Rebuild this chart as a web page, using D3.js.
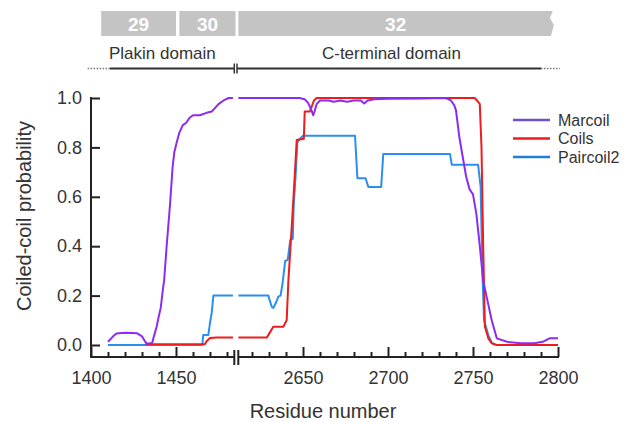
<!DOCTYPE html>
<html>
<head>
<meta charset="utf-8">
<script src="https://cdn.jsdelivr.net/npm/d3@7"></script>
<style>
  body { margin: 0; background: #fff; }
  svg { display: block; font-family: "Liberation Sans", Arial, Helvetica, sans-serif; }
</style>
</head>
<body>
<svg id="chart" width="636" height="422"></svg>
<script>
// ---- data (residue, probability) ----
var marcoil = [
  [1410,0.013],[1413,0.035],[1415,0.047],[1420,0.05],[1427,0.048],[1430,0.035],[1432,0.012],
  [1433,0.005],[1436,0.008],[1437,0.035],[1438.6,0.074],[1440,0.12],[1441,0.15],[1442.5,0.236],
  [1443,0.26],[1444.5,0.4],[1446.5,0.57],[1448,0.72],[1449,0.78],[1450.4,0.82],[1452,0.86],
  [1454,0.89],[1456,0.9],[1458,0.92],[1460,0.93],[1464,0.93],[1468,0.94],[1471,0.945],
  [1473,0.96],[1475,0.975],[1478,0.99],[1481,1.0],[1483.5,1.0],
  [2612,1.0],[2648,1.0],[2651,0.995],[2653,0.98],[2655,0.95],[2656,0.93],[2657,0.95],
  [2658,0.975],[2660,0.99],[2665,0.99],[2668,0.985],[2672,0.99],[2676,0.985],[2680,0.99],
  [2684,0.99],[2686,0.978],[2688,0.99],[2692,0.995],[2700,0.997],[2720,0.998],[2734,1.0],
  [2737,0.99],[2739,0.97],[2740,0.95],[2742,0.84],[2744,0.76],[2746,0.68],[2748,0.63],
  [2750,0.61],[2752,0.53],[2754,0.40],[2756,0.26],[2758,0.196],[2761,0.10],[2764,0.027],
  [2770,0.013],[2778,0.007],[2786,0.007],[2791,0.013],[2795,0.027],[2800,0.027]
];
var coils = [
  [1432,0.003],[1467,0.003],[1468,0.015],[1470,0.028],[1474,0.03],[1483.5,0.03],
  [2612,0.03],[2628.6,0.03],[2629.6,0.04],[2632.5,0.074],[2638.4,0.074],[2640.4,0.10],
  [2641.4,0.26],[2643.3,0.47],[2645,0.67],[2646.3,0.83],[2650.5,0.835],[2651,0.945],
  [2654,0.945],[2656.5,0.99],[2658,1.0],[2751,1.0],[2753,0.985],[2754,0.975],[2755,0.80],
  [2756,0.40],[2757,0.074],[2759,0.027],[2761,0.007],[2764,0],[2800,0]
];
var paircoil2 = [
  [1410,0],[1465.5,0],[1466,0.04],[1469,0.04],[1470,0.09],[1471,0.13],[1472,0.2],[1483.5,0.2],
  [2612,0.2],[2629.6,0.2],[2631.6,0.155],[2632.5,0.15],[2634,0.17],[2635.5,0.196],[2636.8,0.2],
  [2638,0.25],[2639.5,0.34],[2641,0.345],[2642.5,0.425],[2644,0.43],[2644.5,0.56],[2645.6,0.68],
  [2646.7,0.82],[2648.2,0.835],[2650,0.847],[2680.6,0.847],[2682,0.675],[2686.8,0.675],
  [2688.4,0.64],[2696,0.64],[2697.2,0.773],[2736.5,0.773],[2737.5,0.73],[2753,0.73],
  [2754.5,0.64],[2755.5,0.3],[2756.5,0.1],[2759,0.04],[2761,0.01],[2763,0]
];

var seriesNames = ["Marcoil", "Coils", "Paircoil2"];
var yTicks = [0, 0.2, 0.4, 0.6, 0.8, 1.0];
var xMajorLeft = [1400, 1450];
var xMajorRight = [2650, 2700, 2750, 2800];

// exons and domains in residues
var exonLabels = ["29", "30", "32"];
var exonStarts = [1406, 1452, 2612];
var exonEnds = [1450, 1485, 2797];
var domainLabels = ["Plakin domain", "C-terminal domain"];
var domainLabelAt = [1442, 2702];

var colors = { Marcoil: "#8b2cf0", Coils: "#ee1c1c", Paircoil2: "#2b8ff0" },
    legendColors = { Marcoil: "#6e52c9", Coils: "#ee1c1c", Paircoil2: "#1d7fd6" };

var svg = d3.select("#chart");

// broken x axis: two linear pieces
var xL = d3.scaleLinear().domain([1400, 1485]).range([91, 235.5]),
    xR = d3.scaleLinear().domain([2612, 2800]).range([238.4, 558]);
function x(r) { return r < 2000 ? xL(r) : xR(r); }

var y = d3.scaleLinear().domain([0, 1]).range([345, 98]);
var axisY0 = 357;

// ---- banner ----
var banner = svg.append("g").attr("class", "banner");
exonLabels.forEach(function(lab, i) {
  var x0 = x(exonStarts[i]), x1 = x(exonEnds[i]);
  if (i === exonLabels.length - 1) {
    banner.append("path")
      .attr("d", "M" + x0 + ",11 L" + x1 + ",11 L" + (x1 - 3) + ",18 L" + (x1 + 1) + ",25 L" + (x1 - 2) + ",36 L" + x0 + ",36 Z")
      .attr("fill", "#c4c4c4");
  } else {
    banner.append("rect")
      .attr("x", x0).attr("y", 11)
      .attr("width", x1 - x0).attr("height", 25)
      .attr("fill", "#c4c4c4");
  }
  banner.append("text")
    .attr("x", (x0 + x1) / 2).attr("y", 24).attr("dy", "0.36em")
    .attr("text-anchor", "middle")
    .attr("fill", "#fff").attr("font-weight", "bold").attr("font-size", 19)
    .text(lab);
});

domainLabels.forEach(function(lab, i) {
  banner.append("text")
    .attr("x", x(domainLabelAt[i])).attr("y", 59)
    .attr("text-anchor", "middle")
    .attr("fill", "#333").attr("font-size", 17)
    .text(lab);
});

// domain line with dotted ends
var dl = 68.5;
banner.append("line").attr("x1", x(1398)).attr("x2", x(1411)).attr("y1", dl).attr("y2", dl)
  .attr("stroke", "#777").attr("stroke-width", 1.5).attr("stroke-dasharray", "1.5,1.5");
banner.append("line").attr("x1", x(1411)).attr("x2", 234.3).attr("y1", dl).attr("y2", dl)
  .attr("stroke", "#333").attr("stroke-width", 2);
banner.append("line").attr("x1", 237).attr("x2", x(2790)).attr("y1", dl).attr("y2", dl)
  .attr("stroke", "#333").attr("stroke-width", 2);
banner.append("line").attr("x1", x(2790)).attr("x2", x(2801)).attr("y1", dl).attr("y2", dl)
  .attr("stroke", "#777").attr("stroke-width", 1.5).attr("stroke-dasharray", "1.5,1.5");
[234.3, 237].forEach(function(bx) {
  banner.append("line").attr("x1", bx).attr("x2", bx).attr("y1", dl - 5).attr("y2", dl + 5)
    .attr("stroke", "#333").attr("stroke-width", 1.5);
});

// ---- axes ----
var xAxisG = svg.append("g").attr("transform", "translate(0," + axisY0 + ")");
[[xL, xMajorLeft, d3.range(1410, 1490, 10)], [xR, xMajorRight, d3.range(2620, 2800, 10)]].forEach(function(p) {
  xAxisG.append("g")
    .call(d3.axisBottom(p[0]).tickValues(p[2].filter(function(v) { return p[1].indexOf(v) < 0; }))
      .tickSizeInner(-5).tickSizeOuter(0).tickFormat(""));
  xAxisG.append("g")
    .call(d3.axisBottom(p[0]).tickValues(p[1]).tickFormat(d3.format("d"))
      .tickSizeInner(-10).tickSizeOuter(0).tickPadding(14));
});
xAxisG.selectAll(".domain").remove();
xAxisG.selectAll(".tick line").attr("stroke", "#222").attr("stroke-width", 2);
xAxisG.selectAll(".tick text").attr("font-size", 18).attr("fill", "#333")
  .attr("font-family", "Liberation Sans, Arial, sans-serif");
xAxisG.append("line").attr("x1", 90).attr("x2", 234.3).attr("stroke", "#222").attr("stroke-width", 2);
xAxisG.append("line").attr("x1", 238.3).attr("x2", 559).attr("stroke", "#222").attr("stroke-width", 2);
[234.3, 238.3].forEach(function(bx) {
  xAxisG.append("line").attr("x1", bx).attr("x2", bx).attr("y1", -7).attr("y2", 8)
    .attr("stroke", "#222").attr("stroke-width", 2);
});

var yAxisG = svg.append("g").attr("transform", "translate(91,0)")
  .call(d3.axisLeft(y).tickValues(yTicks).tickFormat(d3.format(".1f"))
    .tickSizeInner(-9).tickSizeOuter(0).tickPadding(9));
yAxisG.select(".domain").remove();
yAxisG.selectAll(".tick line").attr("stroke", "#222").attr("stroke-width", 2);
yAxisG.selectAll(".tick text").attr("font-size", 18).attr("fill", "#333")
  .attr("font-family", "Liberation Sans, Arial, sans-serif");
yAxisG.append("line").attr("y1", 97).attr("y2", axisY0).attr("stroke", "#222").attr("stroke-width", 2);

svg.append("text")
  .attr("transform", "translate(31,216) rotate(-90)")
  .attr("text-anchor", "middle").attr("font-size", 20).attr("fill", "#333")
  .text("Coiled-coil probability");
svg.append("text")
  .attr("x", 323).attr("y", 418)
  .attr("text-anchor", "middle").attr("font-size", 20).attr("fill", "#333")
  .text("Residue number");

// ---- lines, split at the axis break ----
var line = d3.line()
  .x(function(d) { return x(d[0]); })
  .y(function(d) { return y(d[1]); });

var plot = svg.append("g").attr("class", "plot");
[["Paircoil2", paircoil2], ["Coils", coils], ["Marcoil", marcoil]].forEach(function(s) {
  var segs = [s[1].filter(function(d) { return d[0] < 2000; }),
              s[1].filter(function(d) { return d[0] > 2000; })];
  segs.forEach(function(seg) {
    plot.append("path")
      .datum(seg)
      .attr("d", line)
      .attr("fill", "none")
      .attr("stroke", colors[s[0]])
      .attr("stroke-width", 2)
      .attr("stroke-linejoin", "round");
  });
});

// ---- legend ----
var legend = svg.append("g").attr("class", "legend");
seriesNames.forEach(function(name, i) {
  var ly = 120 + i * 18.5;
  legend.append("line").attr("x1", 513).attr("x2", 550).attr("y1", ly).attr("y2", ly)
    .attr("stroke", legendColors[name]).attr("stroke-width", 2.5);
  legend.append("text").attr("x", 558).attr("y", ly).attr("dy", "0.36em")
    .attr("font-size", 16).attr("fill", "#333").text(name);
});
</script>
</body>
</html>
